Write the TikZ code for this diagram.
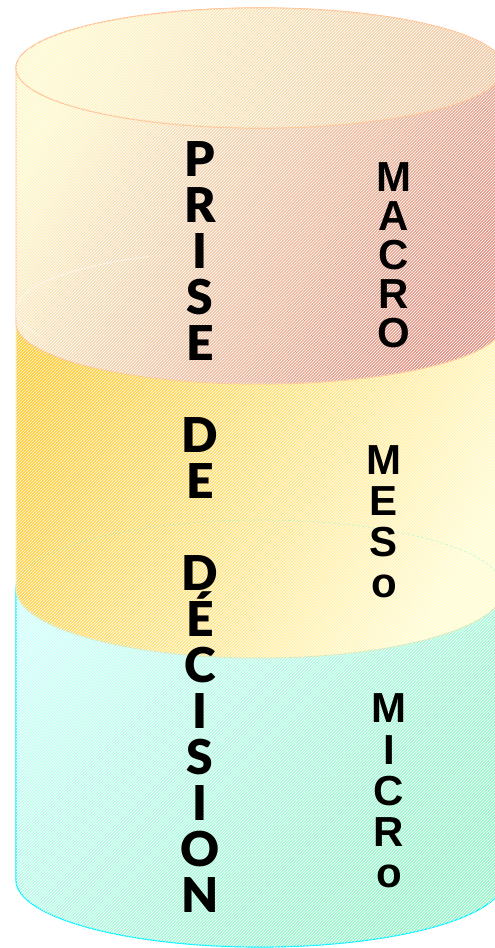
\documentclass[tikz,border=0pt]{standalone}
\usepackage{fontspec}
\newfontfamily\blackfont{Lato Black}
\newfontfamily\boldfont{Liberation Sans}
\usetikzlibrary{positioning,patterns}
\definecolor{macrolight}{HTML}{FEF9C8}
\definecolor{macrodark}{HTML}{E39486}
\definecolor{macroline}{HTML}{FFC392}
\definecolor{capright}{HTML}{F0C8A4}
\definecolor{mesodark}{HTML}{FFC82A}
\definecolor{mesolight}{HTML}{FFFCCC}
\definecolor{mesoline}{HTML}{F8E6B4}
\definecolor{microlight}{HTML}{CAFFFA}
\definecolor{microdark}{HTML}{96F6C8}
\definecolor{microline}{HTML}{00F5FF}
\tikzset{
  hatch/.style={postaction={pattern=north east lines, pattern color=white, fill opacity=0.07}},
  macrobody/.style={draw=macroline, line width=1pt, top color=macrolight, bottom color=macrodark, shading angle=60, hatch},
  macrocap/.style={draw=macroline, line width=1.2pt, top color=macrolight, bottom color=capright, shading angle=70, hatch},
  mesobody/.style={draw=mesoline, line width=1pt, top color=mesodark, bottom color=mesolight, shading angle=60, hatch},
  microbody/.style={draw=microline, line width=1.2pt, top color=microlight, bottom color=microdark, shading angle=45, hatch},
  rimline/.style={draw=microdark!80!cyan, densely dashed, line width=0.6pt, opacity=0.5},
  glint/.style={draw=white, line width=1pt, opacity=0.5},
  bigletter/.style={font=\blackfont\fontsize{48}{48}\selectfont, anchor=base, inner sep=0pt},
  smallletter/.style={font=\boldfont\bfseries\fontsize{42}{42}\selectfont, anchor=base, inner sep=0pt}
}
\begin{document}
\begin{tikzpicture}[x=1pt,y=1pt]
  \useasboundingbox (0,0) rectangle (495,948);
  \clip (0,0) rectangle (495,948);
  \coordinate (macrotop) at (260,880);
  \coordinate (macrobot) at (260,625);
  \coordinate (mesotop) at (260,638);
  \coordinate (mesobot) at (260,359);
  \coordinate (microbot) at (260,68);

  \draw[microbody] ([xshift=-244pt]mesobot) -- ([xshift=-244pt]microbot)
    arc[start angle=180, end angle=360, x radius=244, y radius=67]
    -- ([xshift=244pt]mesobot) arc[start angle=0, end angle=180, x radius=244, y radius=69] -- cycle;
  \draw[mesobody] ([xshift=-244pt]mesotop) -- ([xshift=-244pt]mesobot)
    arc[start angle=180, end angle=360, x radius=244, y radius=69]
    -- ([xshift=244pt]mesotop) arc[start angle=0, end angle=180, x radius=244, y radius=60] -- cycle;
  \draw[rimline] (mesobot) ellipse[x radius=244, y radius=69];
  \draw[macrobody] ([xshift=-244pt]macrotop) -- ([xshift=-244pt]macrobot)
    arc[start angle=180, end angle=360, x radius=244, y radius=61]
    -- ([xshift=244pt]macrotop) arc[start angle=0, end angle=180, x radius=244, y radius=60] -- cycle;
  \draw[macrocap] (macrotop) ellipse[x radius=244, y radius=60];
  \draw[glint] ([shift={(117:244 and 60)}]mesotop) arc[start angle=117, end angle=205, x radius=244, y radius=60];

  \foreach \l [count=\i] in {P,R,I,S,E,,D,E,,D,É,C,I,S,I,O,N}
    \node[bigletter] (prise\i) at (200,{771-46*(\i-1)}) {\l};
  \foreach \l [count=\i] in {M,A,C,R,O}
    \node[smallletter] (macro\i) at (394,{756-38.8*(\i-1)}) {\l};
  \foreach \l [count=\i] in {M,E,S,o}
    \node[smallletter] (meso\i) at (384,{473-41*(\i-1)}) {\l};
  \foreach \l [count=\i] in {M,I,C,R,o}
    \node[smallletter] (micro\i) at (389,{225-41.2*(\i-1)}) {\l};
\end{tikzpicture}
\end{document}
